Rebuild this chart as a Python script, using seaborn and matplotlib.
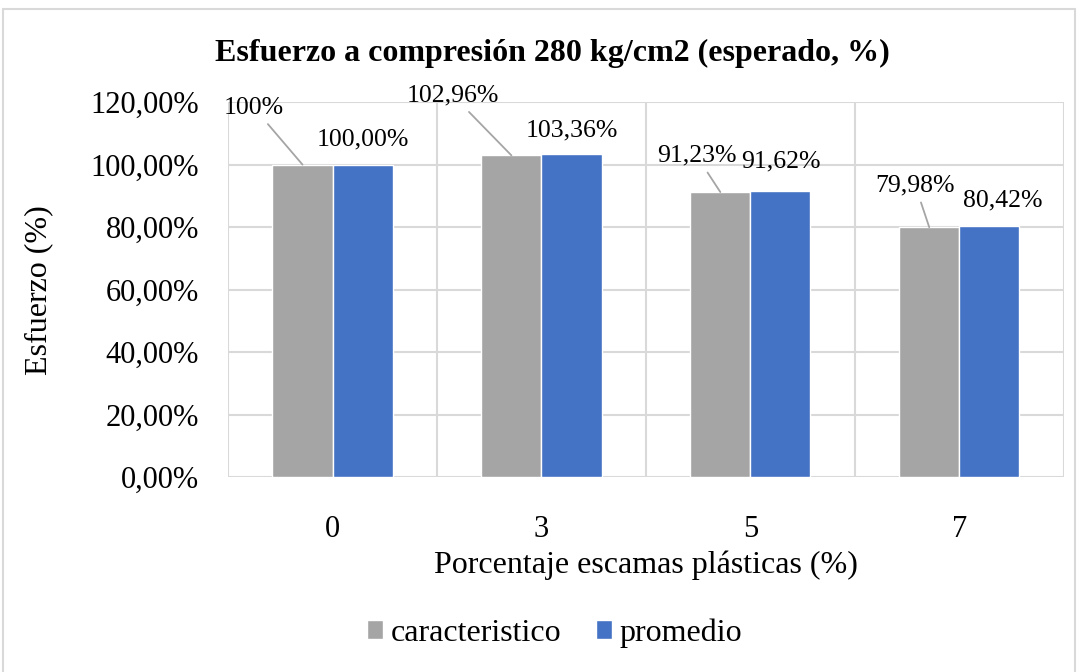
import pandas as pd
import numpy as np
import matplotlib.pyplot as plt
import seaborn as sns
from matplotlib.patches import Rectangle
from matplotlib.ticker import FuncFormatter, FixedLocator

categorias = ['0', '3', '5', '7']
caracteristico = [100.00, 102.96, 91.23, 79.98]
promedio = [100.00, 103.36, 91.62, 80.42]
etiquetas_car = ['100%', '102,96%', '91,23%', '79,98%']
etiquetas_prom = ['100,00%', '103,36%', '91,62%', '80,42%']

sns.set_theme(style='white')
plt.rcParams['font.family'] = ['Liberation Serif', 'DejaVu Serif']
plt.rcParams['text.color'] = 'black'
plt.rcParams['axes.labelcolor'] = 'black'

df = pd.DataFrame({
    'cat': categorias * 2,
    'valor': caracteristico + promedio,
    'serie': ['caracteristico'] * 4 + ['promedio'] * 4,
})

fig = plt.figure(figsize=(10.81, 6.72), dpi=100)
ax = fig.add_axes([0.211, 0.290, 0.773, 0.558])

sns.barplot(data=df, x='cat', y='valor', hue='serie', order=categorias,
            palette={'caracteristico': '#A5A5A5', 'promedio': '#4472C4'},
            width=0.575, gap=0, saturation=1, errorbar=None, ax=ax, zorder=3)

ax.set_ylim(0, 120)
ax.set_xlim(-0.5, 3.5)
ax.yaxis.set_major_locator(FixedLocator(np.arange(0, 121, 20)))
ax.yaxis.set_major_formatter(FuncFormatter(lambda v, p: f'{v:.2f}%'.replace('.', ',')))
ax.xaxis.set_minor_locator(FixedLocator([-0.5, 0.5, 1.5, 2.5, 3.5]))
ax.grid(True, axis='y', which='major', color='#D9D9D9', lw=1.5, zorder=0)
ax.grid(True, axis='x', which='minor', color='#D9D9D9', lw=1.5, zorder=0)
ax.grid(False, axis='x', which='major')
for s in ax.spines.values():
    s.set_visible(False)
ax.tick_params(axis='both', which='both', length=0, labelsize=22, colors='black')
ax.tick_params(axis='y', pad=21)
ax.tick_params(axis='x', pad=27)

ax.set_xlabel('Porcentaje escamas plásticas (%)', fontsize=23, labelpad=5)
ax.set_ylabel('Esfuerzo (%)', fontsize=23, labelpad=27)
fig.suptitle('Esfuerzo a compresión 280 kg/cm2 (esperado, %)', fontsize=23,
             fontweight='bold', x=0.511, y=1 - 53 / 672, va='center')

# etiquetas de datos
bars = ax.patches
gris = [b for b in bars if b.get_facecolor()[0] > 0.6][:4]
azul = [b for b in bars if b.get_facecolor()[2] > 0.7 and b.get_facecolor()[0] < 0.5][:4]
gris.sort(key=lambda b: b.get_x())
azul.sort(key=lambda b: b.get_x())

off_car = [(-35, 41), (-42, 43), (-17, 26), (-10, 30)]
off_prom = [(0, 18), (0, 17), (0, 21), (10, 18)]
for b, v, t, o in zip(gris, caracteristico, etiquetas_car, off_car):
    ax.annotate(t, xy=(b.get_x() + b.get_width() / 2, v), xytext=o,
                textcoords='offset points', ha='center', va='center', fontsize=18.5,
                arrowprops=dict(arrowstyle='-', color='#A5A5A5', lw=1.3,
                                shrinkA=2, shrinkB=0), zorder=5)
for b, v, t, o in zip(azul, promedio, etiquetas_prom, off_prom):
    ax.annotate(t, xy=(b.get_x() + b.get_width() / 2, v), xytext=o,
                textcoords='offset points', ha='center', va='center', fontsize=18.5,
                zorder=5)

h, l = ax.get_legend_handles_labels()
ax.legend(h, l, loc='center', bbox_to_anchor=(0.513, 1 - 633 / 672), bbox_transform=fig.transFigure,
          ncol=2, frameon=False, fontsize=23, handlelength=0.5, handleheight=0.5,
          handletextpad=0.22, columnspacing=1.1)

fig.patches.append(Rectangle((3 / 1081, -0.01), 1072 / 1081, 1 - 9 / 672 + 0.01,
                             transform=fig.transFigure, fill=False,
                             edgecolor='#D9D9D9', lw=1.5))

fig.savefig('out.png', dpi=100)
